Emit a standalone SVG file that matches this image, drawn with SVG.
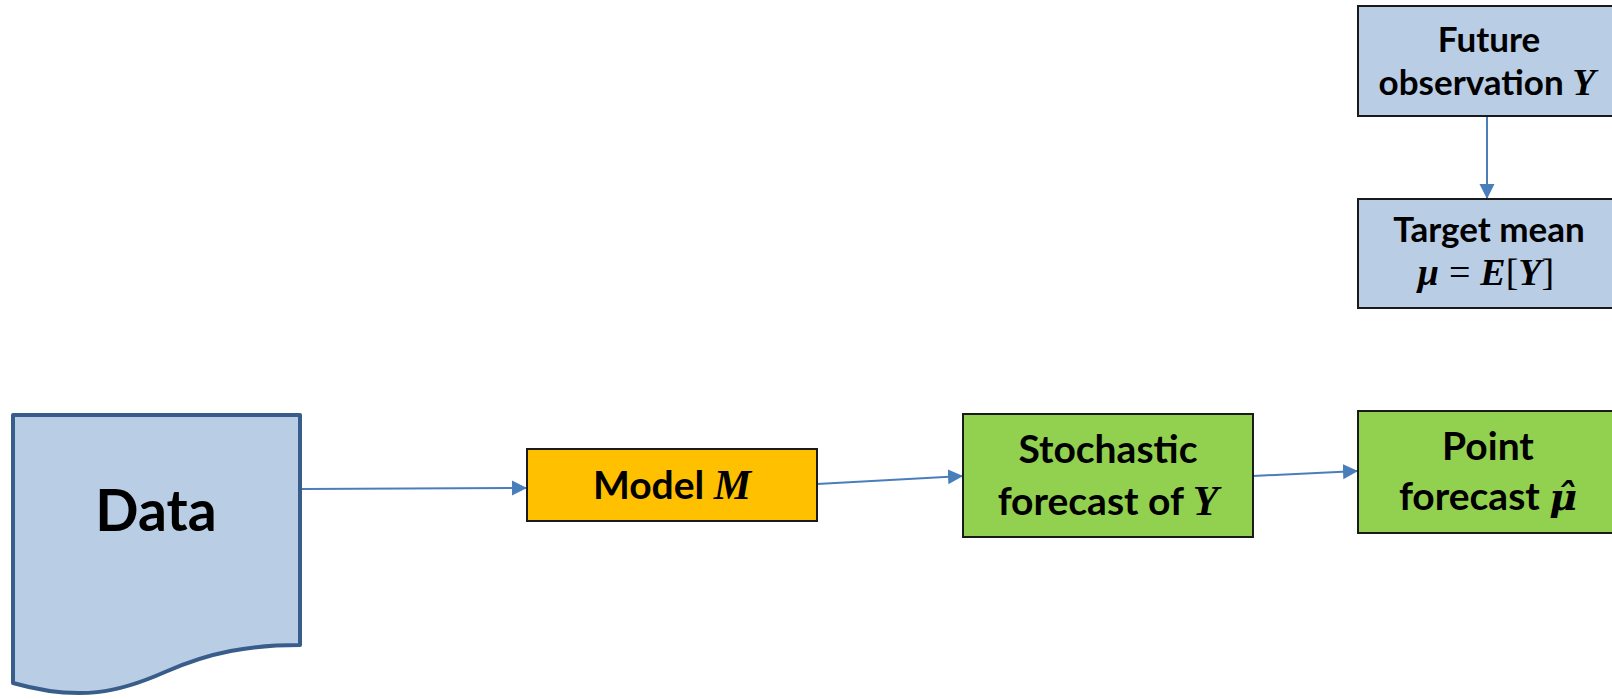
<svg xmlns="http://www.w3.org/2000/svg" width="1612" height="699" viewBox="0 0 1612 699">
  <defs>
    <marker id="arrow" markerUnits="userSpaceOnUse" markerWidth="16" markerHeight="16" viewBox="0 0 16 16" refX="15" refY="8" orient="auto">
      <path d="M0,0.5 L15,8 L0,15.5 Z" fill="#4a7ebb"/>
    </marker>
    <style>
      .box { stroke: #1a1a1a; stroke-width: 2; }
      .blue { fill: #b9cde5; }
      .green { fill: #92d050; }
      .orange { fill: #ffc000; }
      .lbl { font-family: Lato, "Open Sans", "Liberation Sans", sans-serif; font-weight: bold; fill: #000; text-anchor: middle; }
      .math { font-family: "Liberation Serif", "DejaVu Serif", serif; font-weight: bold; font-style: italic; }
      .accent { font-family: "DejaVu Serif", serif; font-weight: bold; font-style: italic; }
      .up { font-style: normal; font-weight: normal; }
      .conn { fill: none; stroke: #4a7ebb; stroke-width: 2; marker-end: url(#arrow); }
    </style>
  </defs>

  <rect width="1612" height="699" fill="#ffffff"/>

  <!-- connectors -->
  <g id="connectors">
    <line class="conn" x1="302" y1="489" x2="527" y2="488"/>
    <line class="conn" x1="817" y1="484" x2="963" y2="476"/>
    <line class="conn" x1="1253" y1="476" x2="1358" y2="471"/>
    <line class="conn" x1="1487" y1="117" x2="1487" y2="199"/>
  </g>

  <!-- data document -->
  <g id="data">
    <path d="M13,415 L300,415 L300,645 C250,645 210,652 165,672 C120,692 80,702 13,683 Z" fill="#b9cde5" stroke="#385d8a" stroke-width="4" stroke-linejoin="round"/>
    <text class="lbl" x="156" y="531" font-size="57">Data</text>
  </g>

  <!-- model -->
  <g id="model">
    <rect class="box orange" x="527" y="449" width="290" height="72"/>
    <text class="lbl" x="672" y="499" font-size="39">Model <tspan class="math" font-size="42">M</tspan></text>
  </g>

  <!-- stochastic forecast -->
  <g id="stochastic">
    <rect class="box green" x="963" y="414" width="290" height="123"/>
    <text class="lbl" x="1108" y="463" font-size="39">Stochastic</text>
    <text class="lbl" x="1108" y="515" font-size="39">forecast of <tspan class="math" font-size="42">Y</tspan></text>
  </g>

  <!-- point forecast -->
  <g id="point">
    <rect class="box green" x="1358" y="411" width="260" height="122"/>
    <text class="lbl" x="1488" y="460" font-size="39">Point</text>
    <text class="lbl" x="1488" y="510" font-size="39">forecast <tspan class="accent" font-size="38">μ̂</tspan></text>
  </g>

  <!-- future observation -->
  <g id="future">
    <rect class="box blue" x="1358" y="6" width="258" height="110"/>
    <text class="lbl" x="1489" y="52" font-size="35">Future</text>
    <text class="lbl" x="1487" y="95" font-size="35">observation <tspan class="math" font-size="38">Y</tspan></text>
  </g>

  <!-- target mean -->
  <g id="target">
    <rect class="box blue" x="1358" y="199" width="258" height="109"/>
    <text class="lbl" x="1489" y="242" font-size="35">Target mean</text>
    <text class="lbl math" x="1486" y="285" font-size="38">μ<tspan class="up" dx="10">=</tspan><tspan dx="10">E</tspan><tspan class="up">[</tspan>Y<tspan class="up">]</tspan></text>
  </g>
</svg>
